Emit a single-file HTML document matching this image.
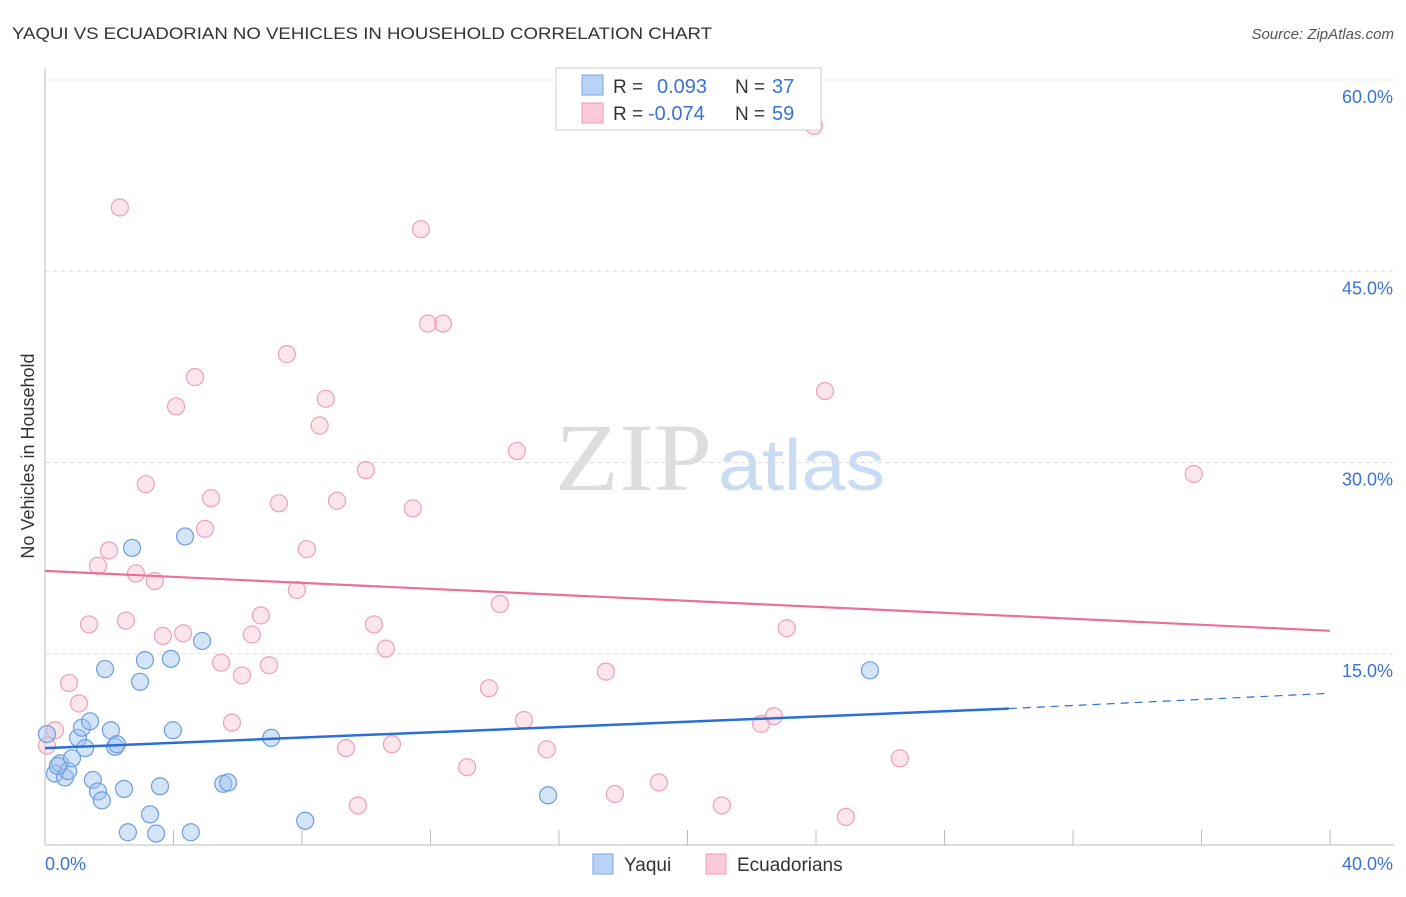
<!DOCTYPE html>
<html><head><meta charset="utf-8"><style>
body{margin:0;background:#fff;font-family:"Liberation Sans",sans-serif}
</style></head><body>
<svg id="chart" width="1406" height="892" xmlns="http://www.w3.org/2000/svg" font-family="Liberation Sans, sans-serif">
<text x="12" y="39" font-size="17" fill="#333" textLength="700" lengthAdjust="spacingAndGlyphs">YAQUI VS ECUADORIAN NO VEHICLES IN HOUSEHOLD CORRELATION CHART</text>
<text x="1394" y="39" font-size="15" fill="#555" font-style="italic" text-anchor="end">Source: ZipAtlas.com</text>
<text x="34" y="456" font-size="18" fill="#333" transform="rotate(-90 34 456)" text-anchor="middle">No Vehicles in Household</text>
<text x="555" y="490" font-size="96" fill="#ddd" font-family="Liberation Serif, serif" textLength="157" lengthAdjust="spacingAndGlyphs">ZIP</text>
<text x="718" y="490" font-size="72" fill="#c9dcf3" textLength="167" lengthAdjust="spacingAndGlyphs">atlas</text>
<g id="grid"></g><g id="pts"></g><g id="lines"></g>
<g>
<rect x="556" y="68" width="265" height="62" fill="#fff" stroke="#ccc"/>
<rect x="582" y="75" width="21" height="20" fill="#b8d3f5" stroke="#7aa6e0"/>
<rect x="582" y="103" width="21" height="20" fill="#fbcad8" stroke="#ee9ab4"/>
<text x="613" y="93" font-size="19" fill="#333">R = </text><text x="657" y="93" font-size="20" fill="#3a72d4">0.093</text>
<text x="735" y="93" font-size="19" fill="#333">N = </text><text x="772" y="93" font-size="20" fill="#3a72d4">37</text>
<text x="613" y="120" font-size="19" fill="#333">R = </text><text x="648" y="120" font-size="20" fill="#3a72d4">-0.074</text>
<text x="735" y="120" font-size="19" fill="#333">N = </text><text x="772" y="120" font-size="20" fill="#3a72d4">59</text>
</g>
<g>
<rect x="593" y="854" width="20" height="20" fill="#b8d3f5" stroke="#7aa6e0"/>
<text x="624" y="871" font-size="19" fill="#333">Yaqui</text>
<rect x="706" y="854" width="20" height="20" fill="#fbcad8" stroke="#ee9ab4"/>
<text x="737" y="871" font-size="19" fill="#333">Ecuadorians</text>
</g>
</svg>
<script>
const yTicks=[15,30,45,60];
const xTickLabels=["0.0%","40.0%"];
const blueX=[0.06,0.31,0.47,0.62,0.72,0.84,1.03,1.15,1.25,1.40,1.49,1.65,1.77,1.87,2.05,2.18,2.24,2.46,2.58,2.71,2.96,3.11,3.27,3.46,3.58,3.92,3.98,4.36,4.54,4.89,5.55,5.70,7.04,8.10,15.66,25.68,0.40];
const blueY=[8.7,5.6,6.4,5.3,5.8,6.8,8.4,9.2,7.6,9.7,5.1,4.2,3.5,13.8,9.0,7.7,7.9,4.4,1.0,23.3,12.8,14.5,2.4,0.9,4.6,14.6,9.0,24.2,1.0,16.0,4.8,4.9,8.4,1.9,3.9,13.7,6.2];
const pinkX=[2.33,23.94,11.70,11.92,12.39,7.53,4.67,4.08,8.74,24.28,8.55,14.69,3.14,9.99,35.76,5.17,7.28,9.09,11.45,4.98,1.99,8.15,1.65,2.83,3.42,7.84,14.16,2.52,1.37,6.72,10.24,3.67,4.30,6.44,10.61,5.48,6.97,6.13,17.46,23.09,0.75,1.06,13.82,5.82,14.91,22.69,22.29,0.31,0.06,9.37,10.80,15.62,26.61,13.14,19.11,17.74,9.74,21.07,24.93];
const pinkY=[50.0,56.4,48.3,40.9,40.9,38.5,36.7,34.4,35.0,35.6,32.9,30.9,28.3,29.4,29.1,27.2,26.8,27.0,26.4,24.8,23.1,23.2,21.9,21.3,20.7,20.0,18.9,17.6,17.3,18.0,17.3,16.4,16.6,16.5,15.4,14.3,14.1,13.3,13.6,17.0,12.7,11.1,12.3,9.6,9.8,10.1,9.5,9.0,7.8,7.6,7.9,7.5,6.8,6.1,4.9,4.0,3.1,3.1,2.2];
const blueTrend=[7.6,10.7];
const blueTrendEnd=11.9;
const pinkTrend=[21.5,16.8];
const X0=45,X1=1330,Y0=845,PY=765/60;
const xs=v=>X0+v/40*(X1-X0), ys=v=>Y0-v*PY;
const NS="http://www.w3.org/2000/svg";
function mk(tag,attrs,parent,text){const e=document.createElementNS(NS,tag);for(const k in attrs)e.setAttribute(k,attrs[k]);if(text!==undefined)e.textContent=text;document.getElementById(parent).appendChild(e);return e;}
yTicks.forEach(t=>{
 const g=mk('line',{x1:X0,x2:1394,y1:ys(t),y2:ys(t),stroke:'#ddd','stroke-dasharray':'4,4'},'grid');
 
 
 const l=mk('text',{x:1393,y:ys(t)+23,'font-size':18,fill:'#3a72d4','text-anchor':'end'},'grid',t.toFixed(1)+'%');
 
 
});
const ax=mk('line',{x1:X0,x2:1394,y1:Y0,y2:Y0,stroke:'#bbb'},'grid');


const ay=mk('line',{x1:X0,x2:X0,y1:68,y2:Y0,stroke:'#bbb'},'grid');


for(let i=1;i<=10;i++){const t=mk('line',{x1:xs(i*4),x2:xs(i*4),y1:Y0-15,y2:Y0,stroke:'#bbb'},'grid');
 
 }
const xl0=mk('text',{x:45,y:870,'font-size':18,fill:'#3a72d4'},'grid',xTickLabels[0]);


const xl1=mk('text',{x:1393,y:870,'font-size':18,fill:'#3a72d4','text-anchor':'end'},'grid',xTickLabels[1]);


pinkX.forEach((x,i)=>{const c=mk('circle',{cx:xs(x),cy:ys(pinkY[i]),r:8.5,fill:'rgba(248,180,200,0.35)',stroke:'#eea0b8','stroke-width':1.2},'pts');
 
 });
blueX.forEach((x,i)=>{const c=mk('circle',{cx:xs(x),cy:ys(blueY[i]),r:8.5,fill:'rgba(160,196,240,0.45)',stroke:'#6d9de0','stroke-width':1.2},'pts');
 
 });
const bl=mk('line',{x1:xs(0),y1:ys(blueTrend[0]),x2:xs(30),y2:ys(blueTrend[1]),stroke:'#2a6fd6','stroke-width':2.5},'lines');


const bd=mk('line',{x1:xs(30),y1:ys(blueTrend[1]),x2:xs(40),y2:ys(blueTrendEnd),stroke:'#2a6fd6','stroke-width':1.2,'stroke-dasharray':'8,6'},'lines');


const pl=mk('line',{x1:xs(0),y1:ys(pinkTrend[0]),x2:xs(40),y2:ys(pinkTrend[1]),stroke:'#e8709a','stroke-width':2.2},'lines');


</script>
</body></html>
